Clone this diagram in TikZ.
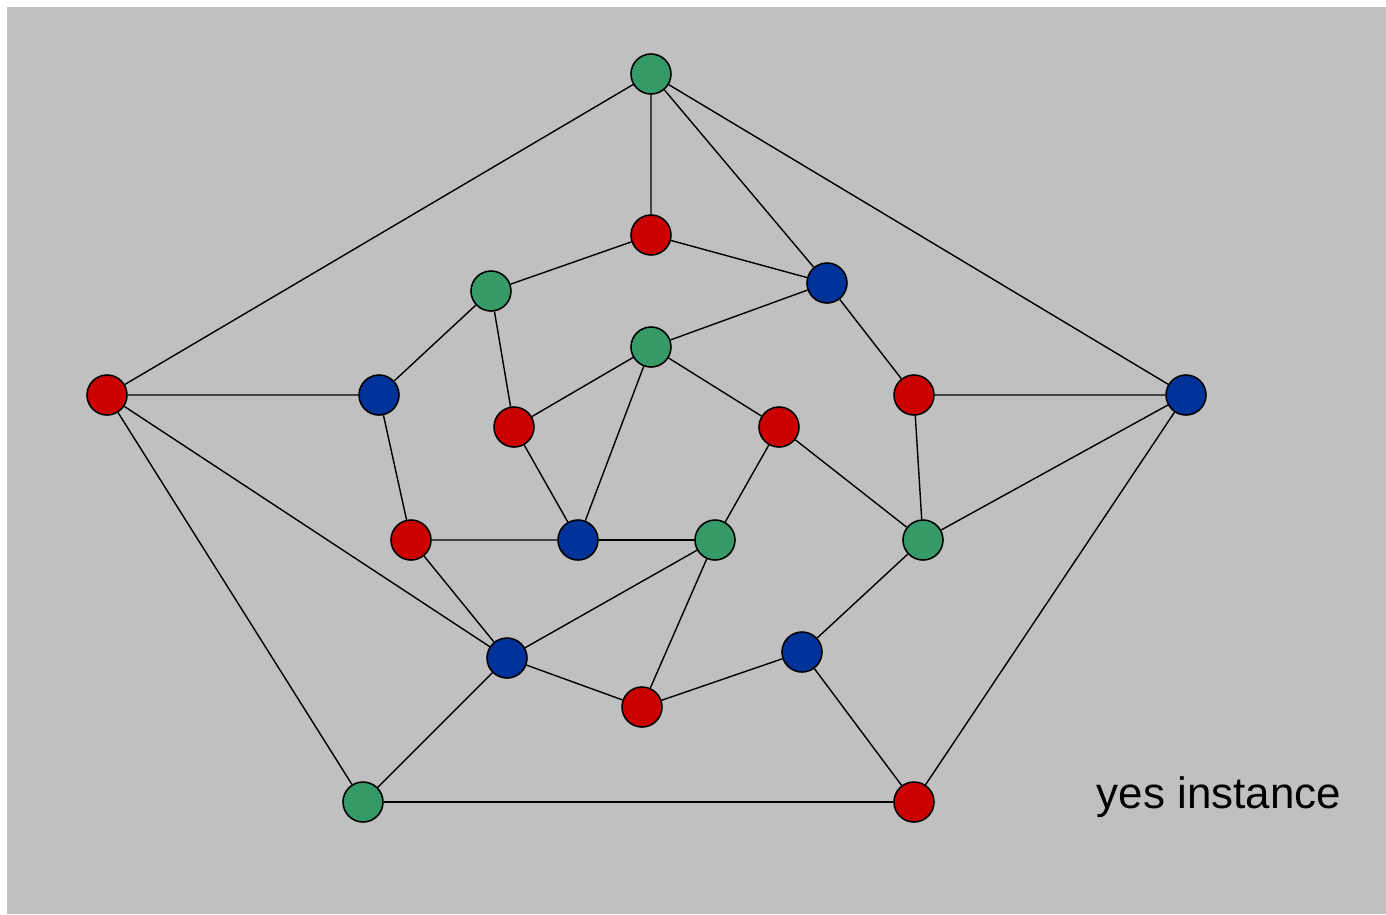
\documentclass[tikz,border=0pt]{standalone}
\usepackage{fontspec}
\setmainfont{Liberation Sans}
\usepackage{xcolor}
\usepackage{tikz}
\usetikzlibrary{positioning}
\definecolor{bgray}{HTML}{C0C0C0}
\definecolor{vgreen}{HTML}{369A68}
\definecolor{vred}{HTML}{CC0000}
\definecolor{vblue}{HTML}{003399}
\tikzstyle{vtx} = [circle, draw=black, line width=0.9pt, minimum size=0.8cm, inner sep=0pt]
\tikzstyle{gv} = [vtx, fill=vgreen]
\tikzstyle{rv} = [vtx, fill=vred]
\tikzstyle{bv} = [vtx, fill=vblue]
\tikzstyle{edge} = [draw, line width=0.8pt]

\begin{document}
\begin{tikzpicture}[x=0.02cm, y=-0.02cm]
	\useasboundingbox (0,0) rectangle (1386,914);
	\fill[bgray] (7,7) rectangle (1386,914);
	% outer ring
	\node[gv] (gTop) at (651,74) {};
	\node[rv] (rL) at (107,395) {};
	\node[bv] (bR) at (1186,395) {};
	\node[gv] (gBL) at (363,802) {};
	\node[rv] (rBR) at (914,802) {};
	% middle ring
	\node[rv] (rA) at (651,235) {};
	\node[gv] (gA) at (491,291) {};
	\node[bv] (bA) at (827,283) {};
	\node[bv] (bB) at (379,395) {};
	\node[rv] (rB) at (914,395) {};
	\node[rv] (rE) at (411,540) {};
	\node[gv] (gD) at (923,540) {};
	\node[bv] (bD) at (507,658) {};
	\node[bv] (bE) at (802,652) {};
	\node[rv] (rF) at (642,707) {};
	% inner ring
	\node[gv] (gB) at (651,347) {};
	\node[rv] (rC) at (514,427) {};
	\node[rv] (rD) at (779,427) {};
	\node[bv] (bC) at (578,540) {};
	\node[gv] (gC) at (715,540) {};
	% edges
	\path[edge] (gTop) -- (rL) (gTop) -- (bR) (gTop) -- (rA) (gTop) -- (bA);
	\path[edge] (rA) -- (gA) (rA) -- (bA);
	\path[edge] (gA) -- (bB) (gA) -- (rC);
	\path[edge] (bA) -- (gB) (bA) -- (rB);
	\path[edge] (gB) -- (rC) (gB) -- (bC) (gB) -- (rD);
	\path[edge] (rL) -- (bB) (rL) -- (bD) (rL) -- (gBL);
	\path[edge] (bB) -- (rE);
	\path[edge] (rB) -- (bR) (rB) -- (gD);
	\path[edge] (bR) -- (gD) (bR) -- (rBR);
	\path[edge] (rC) -- (bC);
	\path[edge] (rD) -- (gC) (rD) -- (gD);
	\path[edge] (rE) -- (bC) (rE) -- (bD);
	\path[edge] (bC) -- (gC);
	\path[edge] (gC) -- (bD) (gC) -- (rF);
	\path[edge] (gD) -- (bE);
	\path[edge] (bD) -- (rF) (bD) -- (gBL);
	\path[edge] (bE) -- (rF) (bE) -- (rBR);
	\path[edge] (gBL) -- (rBR);
	\node[font=\fontsize{25}{30}\selectfont] (yes) at (1219,797) {yes instance};
\end{tikzpicture}
\end{document}
